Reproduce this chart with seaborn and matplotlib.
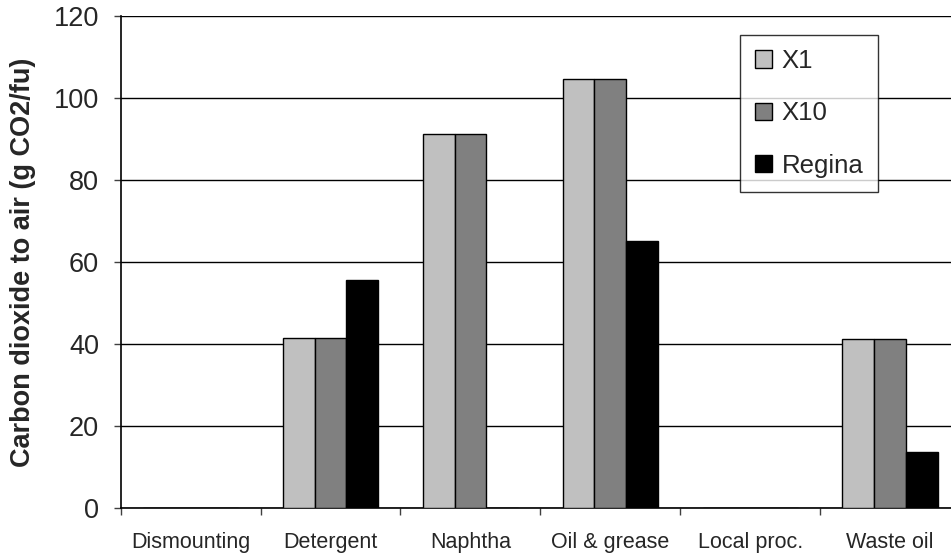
import numpy as np
import pandas as pd
import matplotlib
matplotlib.use("Agg")
import matplotlib.pyplot as plt
import seaborn as sns

categories = ["Dismounting", "Detergent", "Naphtha", "Oil & grease", "Local proc.", "Waste oil"]
x1 = [0, 41.5, 91.2, 104.5, 0, 41.3]
x10 = [0, 41.5, 91.2, 104.5, 0, 41.3]
regina = [0, 55.6, 0, 65.2, 0, 13.6]
series = ["X1", "X10", "Regina"]
colors = ["#C0C0C0", "#808080", "#000000"]
yticks = [0, 20, 40, 60, 80, 100, 120]

df = pd.DataFrame({
    "category": categories * 3,
    "series": [s for s in series for _ in categories],
    "value": x1 + x10 + regina,
})

sns.set_style("white")
plt.rcParams["font.family"] = ["Liberation Sans", "DejaVu Sans"]

fig = plt.figure(figsize=(9.51, 5.59), dpi=100)
ax = fig.add_axes([0.1269, 0.0907, 0.8825, 0.8812])

sns.barplot(data=df, x="category", y="value", hue="series", order=categories,
            hue_order=series, palette=colors, width=0.68, gap=0,
            edgecolor="black", linewidth=1, saturation=1, ax=ax, zorder=3)

ax.set_ylim(0, 120)
ax.set_xlim(-0.5, 5.5)
ax.set_yticks(yticks)
ax.yaxis.grid(True, color="black", linewidth=1, zorder=0)
ax.set_axisbelow(True)

for s in ["top", "right"]:
    ax.spines[s].set_visible(False)
for s in ["left", "bottom"]:
    ax.spines[s].set_color("black")
    ax.spines[s].set_linewidth(1.2)

ax.set_xticks(range(len(categories)))
ax.set_xticklabels(categories)
ax.set_xticks(np.arange(-0.5, len(categories)), minor=True)
ax.tick_params(axis="x", which="major", length=0, pad=17, labelsize=15.5)
ax.tick_params(axis="x", which="minor", length=5, color="#404040", width=1, bottom=True)
ax.tick_params(axis="y", length=5, color="#404040", width=1, pad=10.5, labelsize=19.5, left=True)

ax.set_xlabel("")
ax.set_ylabel("Carbon dioxide to air (g CO2/fu)", fontsize=19.5, fontweight="bold", va="center")
ax.yaxis.set_label_coords(-0.1165, 0.5)

leg = ax.legend(loc="upper right", bbox_to_anchor=(0.902, 0.961), borderaxespad=0,
                frameon=True, fancybox=False, shadow=False, fontsize=18.5,
                handlelength=0.66, handleheight=0.66, handletextpad=0.4,
                labelspacing=1.1, borderpad=0.55, title=None)
leg.get_frame().set_edgecolor("black")
leg.get_frame().set_linewidth(1)
leg.get_frame().set_facecolor("white")
for h in leg.legend_handles:
    h.set_edgecolor("black")
    h.set_linewidth(1)

fig.savefig("out.png", dpi=100)
